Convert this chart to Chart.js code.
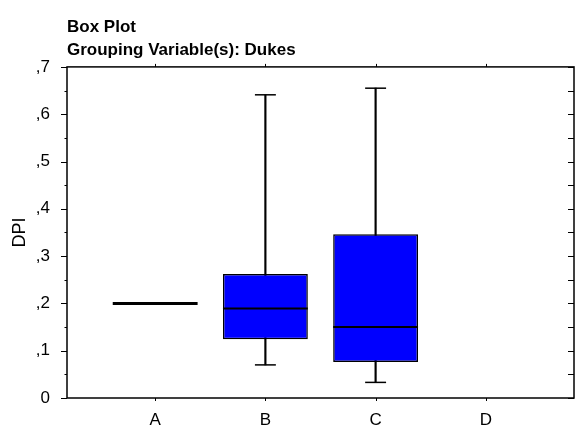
<!DOCTYPE html>
<html>
<head>
<meta charset="utf-8">
<script src="https://cdn.jsdelivr.net/npm/chart.js@4.4.0/dist/chart.umd.min.js"></script>
<style>
html, body { margin: 0; padding: 0; background: #fff; }
</style>
</head>
<body>
<canvas id="boxChart" width="577" height="429"></canvas>
<script>
// DPI by Dukes group (box plot summary values)
const categories = ['A', 'B', 'C', 'D'];
const whiskerLow  = [0.200, 0.070, 0.033, null];
const quartile1   = [0.200, 0.124, 0.076, null];
const medians     = [0.200, 0.189, 0.150, null];
const quartile3   = [0.200, 0.262, 0.346, null];
const whiskerHigh = [0.200, 0.641, 0.655, null];

// Y axis ticks
const yTicks = [0, 0.1, 0.2, 0.3, 0.4, 0.5, 0.6, 0.7];
const yTickLabels = ['0', ',1', ',2', ',3', ',4', ',5', ',6', ',7'];

Chart.defaults.font.family = "'Liberation Sans', Arial, sans-serif";
Chart.defaults.color = '#000';

// Whisker caps and median lines
const boxExtras = {
    id: 'boxExtras',
    afterDatasetsDraw(chart) {
        const ctx = chart.ctx;
        const xScale = chart.scales.x;
        const yScale = chart.scales.y;
        const boxes = chart.getDatasetMeta(1).data;
        const capHalf = xScale.getPixelForValue(1.095) - xScale.getPixelForValue(1);

        ctx.save();
        ctx.strokeStyle = '#000';
        categories.forEach((cat, i) => {
            if (medians[i] == null) return;
            const cx = xScale.getPixelForValue(i + 1);

            ctx.lineWidth = 1.5;
            if (whiskerLow[i] < quartile1[i]) {
                const yy = yScale.getPixelForValue(whiskerLow[i]);
                ctx.beginPath();
                ctx.moveTo(cx - capHalf, yy);
                ctx.lineTo(cx + capHalf, yy);
                ctx.stroke();
            }
            if (whiskerHigh[i] > quartile3[i]) {
                const yy = yScale.getPixelForValue(whiskerHigh[i]);
                ctx.beginPath();
                ctx.moveTo(cx - capHalf, yy);
                ctx.lineTo(cx + capHalf, yy);
                ctx.stroke();
            }

            const bar = boxes[i];
            const ym = yScale.getPixelForValue(medians[i]);
            ctx.lineWidth = quartile1[i] === quartile3[i] ? 3 : 2;
            ctx.beginPath();
            ctx.moveTo(bar.x - bar.width / 2, ym);
            ctx.lineTo(bar.x + bar.width / 2, ym);
            ctx.stroke();
        });
        ctx.restore();
    }
};

// Frame round the plot with its tick marks
const frame = {
    id: 'frame',
    afterDraw(chart) {
        const ctx = chart.ctx;
        const { left, right, top, bottom } = chart.chartArea;
        const xScale = chart.scales.x;
        const yScale = chart.scales.y;

        ctx.save();
        ctx.strokeStyle = '#000';
        ctx.lineWidth = 1.5;
        ctx.strokeRect(left, top, right - left, bottom - top);

        ctx.lineWidth = 1;
        ctx.beginPath();
        for (let k = 0; k <= 14; k++) {
            const yy = Math.round(yScale.getPixelForValue(k * 0.05)) + 0.5;
            const major = k % 2 === 0;
            ctx.moveTo(left - (major ? 6 : 2.5), yy);
            ctx.lineTo(left, yy);
            ctx.moveTo(right - 6, yy);
            ctx.lineTo(right, yy);
        }
        categories.forEach((cat, i) => {
            const xx = Math.round(xScale.getPixelForValue(i + 1)) + 0.5;
            ctx.moveTo(xx, top);
            ctx.lineTo(xx, top - 3);
            ctx.moveTo(xx, bottom);
            ctx.lineTo(xx, bottom + 3);
        });
        ctx.stroke();
        ctx.restore();
    }
};

const ctx = document.getElementById('boxChart').getContext('2d');
new Chart(ctx, {
    type: 'bar',
    data: {
        datasets: [
            {
                label: 'Whiskers',
                data: categories.map((c, i) => ({ x: i + 1, y: whiskerLow[i] == null ? null : [whiskerLow[i], whiskerHigh[i]] })),
                backgroundColor: '#000',
                barThickness: 1.5,
                grouped: false,
                order: 2
            },
            {
                label: 'Boxes',
                data: categories.map((c, i) => ({ x: i + 1, y: quartile1[i] == null ? null : [quartile1[i], quartile3[i]] })),
                backgroundColor: '#0000ff',
                borderColor: '#000',
                borderWidth: 1.5,
                borderSkipped: false,
                barPercentage: 0.77,
                categoryPercentage: 1,
                grouped: false,
                order: 1
            }
        ]
    },
    options: {
        responsive: false,
        animation: false,
        layout: { padding: { top: 0, left: 0, right: 3, bottom: 0 } },
        plugins: {
            legend: { display: false },
            tooltip: { enabled: false },
            title: {
                display: true,
                text: ['Box Plot', 'Grouping Variable(s): Dukes'],
                align: 'start',
                fullSize: false,
                color: '#000',
                font: { size: 17, weight: 'bold', lineHeight: 1.35 },
                padding: { top: 16, bottom: 5 }
            }
        },
        scales: {
            x: {
                type: 'linear',
                min: 0.2,
                max: 4.8,
                offset: false,
                grid: { display: false, drawTicks: false, offset: false },
                border: { display: false },
                afterBuildTicks: s => { s.ticks = categories.map((c, i) => ({ value: i + 1 })); },
                afterFit: s => { s.height = 31; },
                ticks: {
                    autoSkip: false,
                    padding: 12,
                    font: { size: 17 },
                    callback: v => categories[v - 1] || ''
                }
            },
            y: {
                min: 0,
                max: 0.7,
                grid: { display: false, drawTicks: false },
                border: { display: false },
                afterBuildTicks: s => { s.ticks = yTicks.map(v => ({ value: v })); },
                afterFit: s => { s.width = 67; },
                ticks: {
                    padding: 17,
                    font: { size: 17 },
                    callback: (v, i) => yTickLabels[i]
                },
                title: {
                    display: true,
                    text: 'DPI',
                    font: { size: 18 },
                    padding: { top: 9, bottom: 0 }
                }
            }
        }
    },
    plugins: [boxExtras, frame]
});
</script>
</body>
</html>
